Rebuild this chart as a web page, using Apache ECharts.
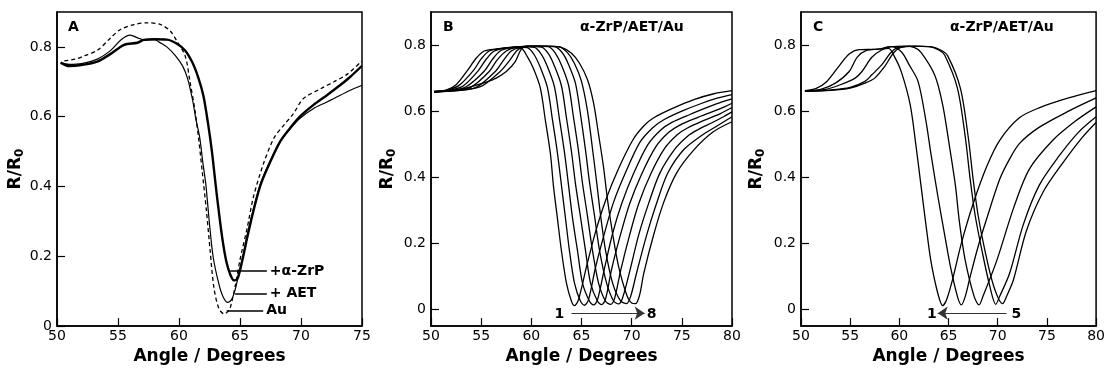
<!DOCTYPE html>
<html>
<head>
<meta charset="utf-8">
<script src="https://cdn.jsdelivr.net/npm/echarts@6/dist/echarts.min.js"></script>
<style>
  html, body { margin: 0; padding: 0; background: #fff; }
  #chart { width: 1108px; height: 370px; }
</style>
</head>
<body>
<div id="chart"></div>
<script>
// ---- panel A : Au, +AET, +alpha-ZrP  ([angle, R/R0]) ----
const aAu = [[50.6,0.760],[51.5,0.765],[52.2,0.774],[53.3,0.790],[54.4,0.826],[55.2,0.850],[56.3,0.864],[57.4,0.869],[58.5,0.864],[59.3,0.845],[59.8,0.818],[60.5,0.775],[60.9,0.700],[61.3,0.620],[61.6,0.540],[61.9,0.444],[62.25,0.330],[62.55,0.217],[62.85,0.113],[63.25,0.052],[63.7,0.035],[64.1,0.045],[64.3,0.066],[64.6,0.113],[65.0,0.190],[65.6,0.283],[66.1,0.370],[66.9,0.463],[67.8,0.540],[68.6,0.576],[69.4,0.610],[70.2,0.652],[71.6,0.680],[72.7,0.700],[73.8,0.722],[75.0,0.760]];
const aAET = [[50.3,0.755],[51.0,0.750],[52.0,0.752],[53.3,0.765],[54.4,0.790],[55.3,0.822],[56.0,0.834],[56.6,0.826],[57.2,0.820],[58.0,0.821],[58.4,0.813],[59.0,0.800],[59.7,0.775],[60.3,0.745],[60.7,0.710],[61.1,0.650],[61.4,0.590],[61.7,0.540],[61.95,0.470],[62.2,0.406],[62.5,0.293],[62.8,0.198],[63.25,0.123],[63.6,0.085],[64.0,0.068],[64.3,0.076],[64.6,0.104],[64.9,0.150],[65.3,0.210],[65.6,0.262],[66.1,0.335],[66.7,0.410],[67.5,0.475],[68.3,0.530],[69.1,0.565],[69.9,0.595],[71.0,0.623],[72.0,0.640],[72.7,0.652],[74.0,0.675],[75.0,0.690]];
const aZrP = [[50.3,0.755],[51.0,0.745],[52.0,0.748],[53.3,0.758],[54.4,0.780],[55.5,0.806],[56.6,0.812],[57.1,0.820],[58.0,0.822],[59.0,0.821],[59.8,0.810],[60.5,0.790],[61.1,0.755],[61.6,0.710],[62.0,0.660],[62.4,0.576],[62.7,0.500],[63.0,0.406],[63.3,0.318],[63.6,0.240],[63.9,0.182],[64.2,0.148],[64.5,0.131],[64.8,0.136],[65.2,0.190],[65.6,0.255],[66.1,0.330],[66.7,0.406],[67.5,0.472],[68.3,0.529],[69.1,0.567],[69.9,0.600],[71.0,0.633],[72.1,0.661],[73.2,0.690],[74.0,0.713],[75.0,0.746]];

// ---- panel B : curves 1..8 ----
const b1 = [[50.3,0.660],[51.5,0.664],[52.5,0.680],[53.6,0.722],[54.5,0.760],[55.3,0.782],[56.5,0.788],[58.0,0.792],[59.0,0.790],[59.6,0.765],[60.2,0.730],[60.9,0.670],[61.4,0.572],[61.9,0.472],[62.2,0.375],[62.6,0.276],[63.0,0.178],[63.5,0.080],[64.0,0.025],[64.3,0.012],[64.7,0.030],[65.5,0.130],[66.4,0.235],[67.4,0.330],[68.6,0.420],[70.1,0.512],[71.2,0.555],[72.2,0.580],[74.2,0.610],[76.2,0.635],[78.1,0.652],[80.0,0.662]];
const b2 = [[50.3,0.660],[51.5,0.663],[52.8,0.678],[54.2,0.722],[55.0,0.758],[55.8,0.782],[57.0,0.790],[58.5,0.794],[59.6,0.792],[60.3,0.770],[60.9,0.732],[61.6,0.672],[62.1,0.575],[62.6,0.474],[63.0,0.376],[63.4,0.277],[63.8,0.178],[64.3,0.080],[64.9,0.025],[65.3,0.013],[65.7,0.030],[66.4,0.128],[67.3,0.232],[68.2,0.325],[69.4,0.415],[70.8,0.505],[72.1,0.550],[73.2,0.574],[75.0,0.600],[77.0,0.624],[78.6,0.640],[80.0,0.650]];
const b3 = [[50.3,0.659],[51.8,0.663],[53.2,0.676],[54.7,0.722],[55.5,0.757],[56.3,0.782],[57.5,0.791],[59.0,0.795],[60.3,0.793],[61.0,0.772],[61.6,0.735],[62.3,0.674],[62.8,0.577],[63.3,0.476],[63.7,0.378],[64.1,0.278],[64.6,0.178],[65.1,0.080],[65.8,0.025],[66.2,0.014],[66.6,0.030],[67.3,0.126],[68.1,0.230],[69.0,0.320],[70.2,0.412],[71.6,0.498],[72.9,0.543],[74.0,0.566],[75.8,0.590],[77.6,0.612],[79.0,0.628],[80.0,0.637]];
const b4 = [[50.3,0.659],[52.0,0.662],[53.5,0.674],[55.3,0.721],[56.1,0.756],[56.9,0.782],[58.0,0.792],[59.5,0.796],[61.0,0.794],[61.7,0.774],[62.3,0.737],[63.0,0.677],[63.5,0.580],[64.0,0.478],[64.4,0.380],[64.9,0.280],[65.4,0.178],[65.9,0.080],[66.6,0.025],[67.0,0.015],[67.4,0.032],[68.0,0.122],[68.9,0.228],[69.8,0.320],[71.0,0.410],[72.4,0.492],[73.7,0.536],[74.8,0.558],[76.5,0.580],[78.2,0.600],[79.3,0.614],[80.0,0.624]];
const b5 = [[50.3,0.659],[52.2,0.662],[54.0,0.673],[55.8,0.720],[56.6,0.755],[57.5,0.782],[58.5,0.793],[60.0,0.797],[61.7,0.795],[62.4,0.775],[63.0,0.740],[63.7,0.680],[64.2,0.582],[64.7,0.480],[65.1,0.382],[65.6,0.282],[66.1,0.178],[66.7,0.080],[67.4,0.025],[67.9,0.016],[68.3,0.034],[68.9,0.118],[69.8,0.226],[70.7,0.320],[71.9,0.410],[73.3,0.488],[74.6,0.530],[75.6,0.550],[77.2,0.572],[78.8,0.592],[80.0,0.611]];
const b6 = [[50.3,0.658],[52.5,0.662],[54.5,0.672],[56.4,0.720],[57.2,0.753],[58.0,0.782],[59.0,0.794],[60.5,0.797],[62.3,0.795],[63.1,0.776],[63.7,0.742],[64.4,0.684],[64.9,0.590],[65.4,0.482],[65.8,0.385],[66.3,0.283],[66.8,0.178],[67.5,0.080],[68.2,0.026],[68.7,0.017],[69.1,0.036],[69.8,0.115],[70.7,0.226],[71.7,0.322],[72.8,0.412],[74.3,0.485],[75.6,0.525],[76.6,0.544],[78.0,0.565],[79.2,0.584],[80.0,0.598]];
const b7 = [[50.3,0.658],[52.8,0.663],[55.0,0.675],[56.9,0.720],[57.8,0.752],[58.6,0.784],[59.4,0.796],[61.0,0.797],[62.7,0.795],[63.6,0.777],[64.3,0.744],[65.0,0.690],[65.6,0.600],[66.1,0.485],[66.5,0.388],[66.9,0.285],[67.4,0.178],[68.1,0.080],[68.9,0.026],[69.5,0.018],[69.9,0.040],[70.5,0.112],[71.5,0.226],[72.5,0.323],[73.6,0.413],[75.2,0.484],[76.9,0.525],[78.5,0.555],[80.0,0.583]];
const b8 = [[50.3,0.658],[53.2,0.668],[55.5,0.688],[56.5,0.700],[57.5,0.720],[58.4,0.750],[59.0,0.788],[59.6,0.797],[61.5,0.797],[63.0,0.793],[64.0,0.775],[64.8,0.745],[65.6,0.695],[66.2,0.625],[66.7,0.530],[67.2,0.430],[67.6,0.330],[68.1,0.230],[68.7,0.130],[69.5,0.045],[70.0,0.020],[70.4,0.018],[70.8,0.045],[71.2,0.109],[72.2,0.227],[73.2,0.325],[74.5,0.414],[76.2,0.483],[78.1,0.537],[80.0,0.568]];

// ---- panel C : curves 1..5 ----
const c1 = [[50.4,0.662],[51.5,0.668],[52.6,0.689],[53.9,0.738],[54.9,0.773],[55.9,0.786],[57.5,0.787],[58.9,0.790],[59.5,0.765],[60.2,0.719],[61.1,0.620],[61.7,0.493],[62.2,0.375],[62.7,0.257],[63.2,0.148],[63.9,0.050],[64.4,0.012],[64.8,0.030],[65.4,0.090],[66.3,0.200],[67.5,0.320],[68.9,0.434],[70.2,0.512],[72.2,0.580],[74.2,0.610],[77.2,0.640],[80.0,0.662]];
const c2 = [[50.4,0.661],[52.0,0.666],[53.5,0.685],[54.9,0.720],[55.7,0.763],[56.6,0.783],[57.9,0.788],[59.1,0.795],[60.2,0.780],[61.0,0.740],[61.9,0.690],[62.7,0.571],[63.2,0.473],[63.9,0.345],[64.6,0.227],[65.2,0.129],[65.9,0.040],[66.3,0.014],[66.7,0.040],[67.2,0.100],[68.0,0.190],[68.9,0.277],[70.2,0.394],[71.2,0.455],[72.2,0.502],[74.2,0.551],[77.2,0.600],[80.0,0.640]];
const c3 = [[50.4,0.661],[52.5,0.666],[54.0,0.680],[55.5,0.700],[56.2,0.720],[57.2,0.763],[58.2,0.785],[59.2,0.795],[60.5,0.797],[61.5,0.793],[62.2,0.778],[63.6,0.709],[64.4,0.620],[65.1,0.493],[65.7,0.375],[66.1,0.266],[66.7,0.148],[67.6,0.040],[68.1,0.014],[68.5,0.040],[69.9,0.148],[71.6,0.306],[73.2,0.424],[75.6,0.512],[77.9,0.570],[80.0,0.613]];
const c4 = [[50.4,0.660],[53.0,0.664],[55.0,0.672],[56.5,0.690],[57.2,0.710],[58.2,0.740],[59.1,0.776],[59.8,0.792],[61.0,0.797],[63.0,0.795],[64.0,0.785],[64.6,0.770],[65.9,0.670],[66.7,0.522],[67.2,0.394],[67.7,0.286],[68.4,0.178],[69.2,0.070],[69.8,0.016],[70.2,0.040],[71.2,0.109],[72.6,0.257],[74.2,0.375],[76.2,0.463],[78.2,0.536],[80.0,0.583]];
const c5 = [[50.4,0.660],[53.0,0.663],[55.0,0.670],[56.5,0.685],[57.5,0.700],[58.5,0.735],[59.4,0.776],[60.1,0.792],[61.5,0.797],[63.2,0.795],[64.2,0.785],[64.9,0.768],[66.2,0.670],[67.0,0.522],[67.5,0.394],[68.0,0.286],[68.7,0.178],[69.6,0.070],[70.5,0.018],[70.9,0.040],[71.6,0.090],[72.9,0.237],[74.6,0.355],[76.6,0.443],[78.6,0.521],[80.0,0.566]];

const panelB = [b1, b2, b3, b4, b5, b6, b7, b8];
const panelC = [c1, c2, c3, c4, c5];

// tick labels
const yTicks = [0, 0.2, 0.4, 0.6, 0.8];

const FONT = 'DejaVu Sans';
const chart = echarts.init(document.getElementById('chart'), null, { renderer: 'canvas' });

function xAxisFor(idx, max) {
  return {
    gridIndex: idx, type: 'value', min: 50, max: max, interval: 5,
    axisLine: { show: true, onZero: false, lineStyle: { color: '#000', width: 1.5 } },
    axisTick: { inside: true, length: 8, lineStyle: { color: '#000', width: 1.2 } },
    axisLabel: { margin: 3, color: '#000', fontSize: 14, fontFamily: FONT },
    splitLine: { show: false },
    name: 'Angle / Degrees', nameLocation: 'middle', nameGap: 6,
    nameTextStyle: { color: '#000', fontSize: 17, fontWeight: 'bold', fontFamily: FONT }
  };
}

function yAxisFor(idx, min, gap) {
  return {
    gridIndex: idx, type: 'value', min: min, max: 0.9,
    axisLine: { show: true, onZero: false, lineStyle: { color: '#000', width: 1.5 } },
    axisTick: { inside: true, length: 8, customValues: yTicks, lineStyle: { color: '#000', width: 1.2 } },
    axisLabel: {
      customValues: yTicks, margin: 5, color: '#000', fontSize: 14, fontFamily: FONT,
      formatter: v => (v === 0 ? '0' : v.toFixed(1))
    },
    splitLine: { show: false },
    name: '{r|R/R}{s|0}', nameLocation: 'middle', nameGap: gap, nameRotate: 90,
    nameTextStyle: {
      color: '#000', fontFamily: FONT,
      rich: {
        r: { fontSize: 17, fontWeight: 'bold', color: '#000', fontFamily: FONT },
        s: { fontSize: 12, fontWeight: 'bold', color: '#000', fontFamily: FONT, padding: [9, 0, 0, 0] }
      }
    }
  };
}

function curve(data, idx, width, type) {
  return {
    type: 'line', xAxisIndex: idx, yAxisIndex: idx, data: data,
    showSymbol: false, smooth: 0.3, silent: true,
    lineStyle: { color: '#000', width: width, type: type || 'solid' }
  };
}

const labelStyle = { color: '#000', fontSize: 14, fontWeight: 'bold', fontFamily: FONT };

function leader(from, to, text) {
  return [
    { coord: from, symbol: 'none' },
    { coord: to, symbol: 'none', label: Object.assign({ show: true, position: 'end', distance: 3, formatter: text }, labelStyle) }
  ];
}

const series = [];
// panel A
const sAu = curve(aAu, 0, 1.3, [4, 3]);
const sAET = curve(aAET, 0, 1.2);
const sZrP = curve(aZrP, 0, 2.4);
sZrP.markLine = {
  silent: true, symbol: 'none', animation: false,
  lineStyle: { color: '#000', width: 1.5, type: 'solid' },
  data: [
    leader([64.2, 0.158], [67.2, 0.158], '+α-ZrP'),
    leader([64.6, 0.094], [67.2, 0.094], '+ AET'),
    leader([63.9, 0.045], [66.9, 0.045], 'Au')
  ]
};
series.push(sAu, sAET, sZrP);

// panel B
panelB.forEach((d, i) => {
  const s = curve(d, 1, 1.3);
  if (i === 0) {
    s.markLine = {
      silent: true, animation: false, symbol: ['none', 'arrow'], symbolSize: 10,
      lineStyle: { color: '#333', width: 1, type: 'solid' }, label: { show: false },
      data: [[{ coord: [64.0, -0.011] }, { coord: [71.3, -0.011] }]]
    };
    s.markPoint = {
      silent: true, animation: false, symbol: 'circle', symbolSize: 1,
      itemStyle: { color: 'rgba(0,0,0,0)' },
      label: Object.assign({ show: true, position: 'inside', formatter: '{b}' }, labelStyle),
      data: [{ name: '1', coord: [62.8, -0.014] }, { name: '8', coord: [72.0, -0.014] }]
    };
  }
  series.push(s);
});

// panel C
panelC.forEach((d, i) => {
  const s = curve(d, 2, 1.3);
  if (i === 0) {
    s.markLine = {
      silent: true, animation: false, symbol: ['none', 'arrow'], symbolSize: 10,
      lineStyle: { color: '#333', width: 1, type: 'solid' }, label: { show: false },
      data: [[{ coord: [70.9, -0.011] }, { coord: [63.9, -0.011] }]]
    };
    s.markPoint = {
      silent: true, animation: false, symbol: 'circle', symbolSize: 1,
      itemStyle: { color: 'rgba(0,0,0,0)' },
      label: Object.assign({ show: true, position: 'inside', formatter: '{b}' }, labelStyle),
      data: [{ name: '1', coord: [63.3, -0.014] }, { name: '5', coord: [71.9, -0.014] }]
    };
  }
  series.push(s);
});

const titleStyle = { color: '#000', fontSize: 14, fontWeight: 'bold', fontFamily: FONT };

chart.setOption({
  animation: false,
  backgroundColor: '#fff',
  title: [
    { text: 'A', left: 68, top: 20, padding: 0, textStyle: titleStyle },
    { text: 'B', left: 443, top: 20, padding: 0, textStyle: titleStyle },
    { text: 'α-ZrP/AET/Au', left: 580, top: 20, padding: 0, textStyle: titleStyle },
    { text: 'C', left: 813, top: 20, padding: 0, textStyle: titleStyle },
    { text: 'α-ZrP/AET/Au', left: 950, top: 20, padding: 0, textStyle: titleStyle }
  ],
  grid: [
    { left: 57, top: 12, width: 305, height: 319, show: true, borderColor: '#000', borderWidth: 1.5 },
    { left: 431, top: 12, width: 301, height: 321, show: true, borderColor: '#000', borderWidth: 1.5 },
    { left: 801, top: 12, width: 300, height: 321, show: true, borderColor: '#000', borderWidth: 1.5 }
  ],
  xAxis: [xAxisFor(0, 75), xAxisFor(1, 80), xAxisFor(2, 80)],
  yAxis: [yAxisFor(0, 0, 31), yAxisFor(1, -0.05, 33), yAxisFor(2, -0.05, 34)],
  series: series
});
</script>
</body>
</html>
